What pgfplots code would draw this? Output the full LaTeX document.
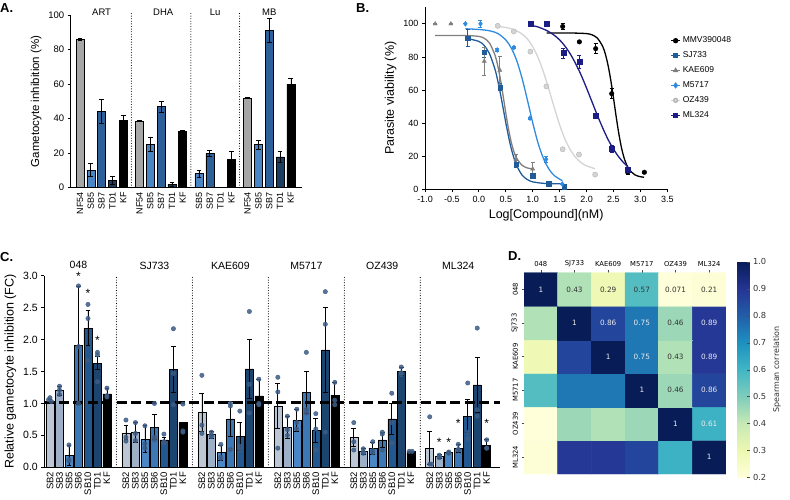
\documentclass[border=0pt]{standalone}
\usepackage{fontspec}
\setmainfont{Liberation Sans}
\newfontfamily\dejavu{DejaVu Sans}
\usepackage{pgfplots}
\pgfplotsset{compat=1.18}

% panel A colours
\definecolor{cNF}{HTML}{A6A6A6}
\definecolor{cSBfive}{HTML}{4A86C5}
\definecolor{cSBseven}{HTML}{2D5F99}
\definecolor{cTD}{HTML}{1C3D62}
% panel C colours
\definecolor{cSBtwo}{HTML}{BCC6D4}
\definecolor{cSBthree}{HTML}{9DB0C8}
\definecolor{cSBfiveC}{HTML}{4A86C5}
\definecolor{cSBsix}{HTML}{3C77B6}
\definecolor{cSBten}{HTML}{235790}
\definecolor{cTDc}{HTML}{1B446F}
\definecolor{cDot}{HTML}{3D5C85}
% panel B colours
\definecolor{cSJ}{HTML}{1F5C99}
\definecolor{cKAE}{HTML}{7F7F7F}
\definecolor{cMF}{HTML}{2E8BE0}
\definecolor{cOZ}{HTML}{D4D4D4}
\definecolor{cML}{HTML}{1C1C85}

\newcommand{\fsz}[1]{\fontsize{#1}{#1}\selectfont}

\pgfplotsset{
  /pgf/number format/assume math mode=true,
  panel/.style={scale only axis, anchor=south west, clip=false,
    axis lines=left, axis line style={-, line width=0.8pt},
    tick align=outside, major tick length=3pt,
    tick style={black, line width=0.8pt}},
  barA/.style={ybar, bar shift=0pt, bar width=8pt, draw=black, line width=0.5pt},
  ebk/.style={error bars/.cd, y dir=both, y explicit,
    error bar style={line width=0.7pt, black},
    error mark options={rotate=90, mark size=2.4pt, line width=0.7pt, black}},
  ebc/.style={error bars/.cd, y dir=both, y explicit,
    error bar style={line width=0.7pt},
    error mark options={rotate=90, mark size=2pt, line width=0.7pt}},
}

\begin{document}
\begin{tikzpicture}[x=1pt, y=1pt]
\path[use as bounding box] (0pt,0pt) rectangle (790pt,499pt);

\node[font=\bfseries\fsz{13}, anchor=north west, inner sep=0pt] at (0pt,496pt) {A.};
\node[font=\bfseries\fsz{13}, anchor=north west, inner sep=0pt] at (356pt,496pt) {B.};
\node[font=\bfseries\fsz{13}, anchor=north west, inner sep=0pt] at (0pt,247pt) {C.};
\node[font=\bfseries\fsz{13}, anchor=north west, inner sep=0pt] at (508pt,248pt) {D.};

% ---------------- A ----------------
\begin{axis}[panel, at={(70.7pt,311.3pt)}, width=231pt, height=172.7pt,
  xmin=-0.86, xmax=20.5, ymin=0, ymax=100,
  ytick={0,20,40,60,80,100},
  xtick={0,1,2,3,4,5.5,6.5,7.5,8.5,9.5,11,12,13,14,15.5,16.5,17.5,18.5,19.5},
  xticklabels={NF54,SB5,SB7,TD1,KF,NF54,SB5,SB7,TD1,KF,SB5,SB7,TD1,KF,NF54,SB5,SB7,TD1,KF},
  xtick style={draw=none},
  xticklabel style={rotate=90, anchor=east, font=\fsz{9}, inner sep=1.5pt},
  yticklabel style={font=\fsz{9.5}},
  ylabel={Gametocyte inhibition (\%)},
  ylabel style={font=\fsz{11.5}},
]
\addplot[barA, fill=cNF, ebk] coordinates {(0,86) +- (0,0.4) (5.5,38.6) +- (0,0.4) (15.5,51.9) +- (0,0.4)};
\addplot[barA, fill=cSBfive, ebk] coordinates {(1,10.2) +- (0,3.8) (6.5,25.1) +- (0,4) (11,8.1) +- (0,2) (16.5,24.9) +- (0,2.7)};
\addplot[barA, fill=cSBseven, ebk] coordinates {(2,44) +- (0,7) (7.5,46.9) +- (0,3) (12,19.9) +- (0,2) (17.5,91.3) +- (0,7)};
\addplot[barA, fill=cTD, ebk] coordinates {(3,4.3) +- (0,2.3) (8.5,2) +- (0,1.2) (18.5,17.8) +- (0,3)};
\addplot[barA, fill=black, ebk] coordinates {(4,39) +- (0,2.7) (9.5,32.7) +- (0,0.4) (14,16.4) +- (0,4.4) (19.5,60) +- (0,3.3)};
\foreach \xd in {4.75,10.25,14.75}{
  \edef\tmp{\noexpand\draw[black, line width=1.1pt, dash pattern=on 0pt off 2.6pt, line cap=round] (axis cs:\xd,0) -- (axis cs:\xd,102);}\tmp
}
\node[font=\fsz{9.5}] at (axis cs:2,101.5) {ART};
\node[font=\fsz{9.5}] at (axis cs:7.7,101.5) {DHA};
\node[font=\fsz{9.5}] at (axis cs:12.5,101.5) {Lu};
\node[font=\fsz{9.5}] at (axis cs:17.5,101.5) {MB};
\end{axis}

% ---------------- B ----------------
\begin{axis}[panel, at={(425pt,309.7pt)}, width=242.3pt, height=182pt,
  xmin=-1, xmax=3.5, ymin=0, ymax=110,
  xtick={-1,-0.5,0,0.5,1,1.5,2,2.5,3,3.5}, ytick={0,20,40,60,80,100},
  xticklabel style={font=\fsz{9}, /pgf/number format/.cd, fixed, fixed zerofill, precision=1},
  yticklabel style={font=\fsz{9}},
  xlabel={Log[Compound](nM)}, ylabel={Parasite viability (\%)},
  label style={font=\fsz{12.5}},
  legend style={at={(1.0,0.86)}, anchor=north west, draw=none, fill=none,
    font=\fsz{8.5}, row sep=3.5pt},
  legend cell align=left,
  legend image code/.code={\draw[#1] (0pt,0pt) -- (9pt,0pt); \draw[#1] plot coordinates {(4.5pt,0pt)};},
]
% fitted curves
\addplot[black, line width=1.3pt, smooth, forget plot] coordinates {
 (1.26,94.5) (1.5,94.5) (1.8,94.4) (2.0,94.1) (2.1,93.4) (2.2,91.4) (2.3,86.4) (2.35,81.7)
 (2.4,74.9) (2.45,66.0) (2.5,55.3) (2.55,44.0) (2.6,33.6) (2.65,25.0) (2.7,18.7) (2.75,14.4)
 (2.8,11.6) (2.9,8.7) (3.0,7.6) (3.07,7.3)};
\addplot[cSJ, line width=1.3pt, smooth, forget plot] coordinates {
 (-0.21,91.1) (0,89.4) (0.1,86.9) (0.2,81.8) (0.3,72.5) (0.35,65.8) (0.4,57.9) (0.45,49.2)
 (0.5,40.4) (0.55,32.1) (0.6,24.9) (0.65,19.1) (0.7,14.5) (0.8,8.7) (0.9,5.9) (1.0,4.5)
 (1.2,3.6) (1.4,3.4) (1.58,3.4)};
\addplot[cKAE, line width=1.3pt, smooth, forget plot] coordinates {
 (-0.81,93) (-0.5,93) (-0.2,92.9) (0,92.4) (0.1,91.3) (0.2,88.3) (0.3,81.1) (0.35,74.9)
 (0.4,66.6) (0.45,56.7) (0.5,46.2) (0.55,36.6) (0.6,28.7) (0.65,22.9) (0.7,18.9) (0.8,14.6)
 (0.9,12.9) (1.0,12.3)};
\addplot[cMF, line width=1.3pt, smooth, forget plot] coordinates {
 (-0.25,97) (0,96.6) (0.2,95.8) (0.35,94.2) (0.5,90.3) (0.6,85.5) (0.7,78.1) (0.8,67.4)
 (0.9,54.2) (1.0,40.3) (1.1,27.9) (1.2,18.6) (1.3,12.3) (1.4,8.3) (1.55,5.2)};
\addplot[cOZ, line width=1.3pt, smooth, forget plot] coordinates {
 (0.35,98.4) (0.5,97.8) (0.65,96.5) (0.8,93.9) (0.9,90.9) (1.0,86.2) (1.1,79.6) (1.2,70.9)
 (1.3,60.5) (1.4,49.5) (1.5,39.0) (1.6,30.3) (1.7,23.8) (1.8,19.2) (1.9,16.1) (2.0,14.2) (2.16,12.4)};
\addplot[cML, line width=1.3pt, smooth, forget plot] coordinates {
 (0.97,99.1) (1.1,98.1) (1.27,95.8) (1.4,93.1) (1.5,90.3) (1.6,86.5) (1.7,81.7) (1.8,75.8)
 (1.9,69.0) (2.0,61.2) (2.1,53.0) (2.2,44.8) (2.3,37.1) (2.4,30.1) (2.5,24.3) (2.6,19.5)
 (2.7,15.7) (2.77,13.65)};
% measured points
\addplot[only marks, mark=*, mark size=2.3pt, black, forget plot, ebc] coordinates {
 (1.557,98.4) +- (0,2) (1.867,89.1) +- (0,0.5) (2.17,85) +- (0,3) (2.467,57.8) +- (0,3)
 (2.765,10.3) +- (0,1) (3.074,10.3) +- (0,0.5)};
\addplot[only marks, mark=square*, mark size=2.2pt, cSJ, forget plot, ebc] coordinates {
 (-0.21,91.5) +- (0,5) (0.10,83) +- (0,3) (0.393,61.8) +- (0,2) (0.69,15.2) +- (0,2)
 (1.0,8.3) +- (0,1) (1.30,3.4) +- (0,0.5) (1.58,1.6) +- (0,0.5)};
\addplot[only marks, mark=triangle*, mark size=2.4pt, cKAE, forget plot, ebc] coordinates {
 (-0.81,100) +- (0,0) (-0.52,100) +- (0,0) (0.10,77.4) +- (0,8.5) (0.39,72) +- (0,8.5)
 (0.69,18) +- (0,3) (1.0,12.3) +- (0,4)};
\addplot[only marks, mark=diamond*, mark size=2.5pt, cMF, forget plot, ebc] coordinates {
 (-0.25,100) +- (0,0) (0.03,100) +- (0,2) (0.34,84.2) +- (0,1) (0.65,85.7) +- (0,0.5)
 (0.95,43) +- (0,0.5) (1.25,18.2) +- (0,2) (1.55,3.2) +- (0,0.5)};
\addplot[only marks, mark=*, mark size=2.6pt, cOZ, mark options={fill=cOZ, draw=cOZ!85!black}, forget plot] coordinates {
 (0.35,98.8) (0.65,95.4) (0.957,83.2) (1.254,62.2) (1.557,24.2) (1.86,21) (2.16,8.9)};
\addplot[only marks, mark=square*, mark size=2.4pt, cML, forget plot, ebc] coordinates {
 (0.97,100) +- (0,0.5) (1.266,100) +- (0,1.5) (1.57,82.4) +- (0,3) (1.867,77.2) +- (0,4)
 (2.17,44.6) +- (0,1) (2.467,24.4) +- (0,2) (2.765,11.7) +- (0,1)};
\addlegendimage{black, line width=1.3pt, mark=*, mark size=2pt}
\addlegendentry{MMV390048}
\addlegendimage{cSJ, line width=1.3pt, mark=square*, mark size=2pt}
\addlegendentry{SJ733}
\addlegendimage{cKAE, line width=1.3pt, mark=triangle*, mark size=2pt}
\addlegendentry{KAE609}
\addlegendimage{cMF, line width=1.3pt, mark=diamond*, mark size=2.2pt}
\addlegendentry{M5717}
\addlegendimage{cOZ, line width=1.3pt, mark=*, mark size=2pt, mark options={draw=cOZ!85!black}}
\addlegendentry{OZ439}
\addlegendimage{cML, line width=1.3pt, mark=square*, mark size=2pt}
\addlegendentry{ML324}
\end{axis}

% ---------------- C ----------------
\begin{axis}[panel, at={(44.3pt,31.7pt)}, width=455.7pt, height=191.6pt,
  xmin=-0.6, xmax=47.4, ymin=0, ymax=3,
  ytick={0,0.5,1,1.5,2,2.5,3},
  yticklabel style={font=\fsz{10.5}, /pgf/number format/.cd, fixed, fixed zerofill, precision=1},
  xtick={0,1,2,3,4,5,6,8,9,10,11,12,13,14,16,17,18,19,20,21,22,24,25,26,27,28,29,30,32,33,34,35,36,37,38,40,41,42,43,44,45,46},
  xticklabels={SB2,SB3,SB5,SB6,SB10,TD1,KF,SB2,SB3,SB5,SB6,SB10,TD1,KF,SB2,SB3,SB5,SB6,SB10,TD1,KF,
    SB2,SB3,SB5,SB6,SB10,TD1,KF,SB2,SB3,SB5,SB6,SB10,TD1,KF,SB2,SB3,SB5,SB6,SB10,TD1,KF},
  xtick style={draw=none},
  xticklabel style={rotate=90, anchor=east, font=\fsz{9.5}, inner sep=1.5pt},
  ylabel={Relative gametocyte inhibition (FC)}, ylabel style={font=\fsz{12.5}},
]
\addplot[barA, fill=cSBtwo, ebk] coordinates {(0,1.04) +- (0,0.02) (8,0.54) +- (0,0.11) (16,0.86) +- (0,0.30) (24,0.96) +- (0,0.35) (32,0.47) +- (0,0.14) (40,0.30) +- (0,0.26)};
\addplot[barA, fill=cSBthree, ebk] coordinates {(1,1.20) +- (0,0.07) (9,0.55) +- (0,0.16) (17,0.51) +- (0,0.05) (25,0.63) +- (0,0.17) (33,0.25) +- (0,0.04) (41,0.17) +- (0,0.03)};
\addplot[barA, fill=cSBfiveC, ebk] coordinates {(2,0.19) +- (0,0.16) (10,0.44) +- (0,0.21) (18,0.23) +- (0,0.12) (26,0.74) +- (0,0.17) (34,0.30) +- (0,0.09) (42,0.23) +- (0,0.01)};
\addplot[barA, fill=cSBsix, ebk] coordinates {(3,1.91) +- (0,0.93) (11,0.63) +- (0,0.20) (19,0.76) +- (0,0.27) (27,1.17) +- (0,0.33) (35,0.43) +- (0,0.12) (43,0.30) +- (0,0.06)};
\addplot[barA, fill=cSBten, ebk] coordinates {(4,2.18) +- (0,0.27) (12,0.43) +- (0,0.04) (20,0.49) +- (0,0.22) (28,0.58) +- (0,0.19) (36,0.76) +- (0,0.24) (44,0.80) +- (0,0.26)};
\addplot[barA, fill=cTDc, ebk] coordinates {(5,1.63) +- (0,0.10) (13,1.53) +- (0,0.36) (21,1.54) +- (0,0.46) (29,1.84) +- (0,0.67) (37,1.50) +- (0,0.06) (45,1.29) +- (0,0.43)};
\addplot[barA, fill=black, ebk] coordinates {(6,1.15) +- (0,0.09) (14,0.70) +- (0,0) (22,1.12) +- (0,0.26) (30,1.13) +- (0,0.20) (38,0.25) +- (0,0) (46,0.34) +- (0,0.09)};
% replicate points
\addplot[only marks, mark=*, mark size=2.2pt, mark options={fill=cDot, draw=cDot, fill opacity=0.85}] coordinates {
 (-0.15,1.06) (0,1.09) (0.15,1.03) (1,1.27) (1,1.21) (1,1.14) (2,0.35) (2,0.12) (2,0.10)
 (3,2.84) (3,1.0) (3,1.89) (4,2.55) (4,2.33) (4,1.67) (5,1.80) (5,1.76) (5,1.34) (6,1.24) (6,1.10) (6,1.12)
 (8,0.74) (8,0.41) (8,0.47) (9,0.70) (9,0.53) (9,0.42) (10,0.65) (10,0.30) (10,0.37)
 (11,1.0) (11,0.43) (11,0.47) (12,0.52) (12,0.40) (12,0.38) (13,2.17) (13,1.47) (13,0.98) (14,0.99) (14,0.57) (14,0.55)
 (16,1.44) (16,0.66) (16,0.53) (17,0.55) (17,0.48) (17,0.50) (18,0.36) (18,0.16) (18,0.14)
 (19,1.0) (19,0.96) (19,0.28) (20,0.88) (20,0.33) (20,0.27) (21,2.44) (21,1.30) (21,0.85) (22,1.38) (22,1.0) (22,0.98)
 (24,1.41) (24,1.18) (24,0.30) (25,0.80) (25,0.50) (25,0.59) (26,0.91) (26,0.60) (26,0.70)
 (27,1.80) (27,0.85) (27,0.90) (28,0.84) (28,0.60) (28,0.27) (29,2.75) (29,2.24) (29,0.55) (30,1.33) (30,0.98) (30,1.05)
 (32,0.70) (32,0.27) (32,0.40) (33,0.29) (33,0.24) (33,0.22) (34,0.40) (34,0.23) (34,0.26)
 (35,0.55) (35,0.52) (35,0.27) (36,1.16) (36,0.70) (36,0.38) (37,1.48) (37,1.57) (37,1.45) (37.85,0.25) (38.15,0.25)
 (40,0.79) (40,0.05) (40.2,0.05) (41,0.19) (41,0.17) (41,0.15) (42,0.23) (42,0.22) (42,0.24)
 (43,0.36) (43,0.28) (43,0.27) (44,1.32) (44,0.55) (44,0.45) (45,2.18) (45,0.80) (45,0.90) (46,0.43) (46,0.30) (46,0.30)};
% significance stars
\addplot[only marks, mark=none, nodes near coords={*}, nodes near coords style={anchor=center, font=\fsz{12}}] coordinates {
 (3,2.99) (4,2.72) (5,1.99) (41,0.39) (42,0.39) (43,0.69) (46,0.69)};
\draw[black, line width=3pt, dash pattern=on 10pt off 4.5pt] (axis cs:-0.6,1.01) -- (axis cs:47.4,1.01);
\foreach \xd in {7,15,23,31,39}{
  \edef\tmp{\noexpand\draw[black, line width=1.1pt, dash pattern=on 0pt off 2.6pt, line cap=round] (axis cs:\xd,0) -- (axis cs:\xd,3);}\tmp
}
\node[font=\fsz{10.5}] at (axis cs:3,3.17) {048};
\node[font=\fsz{10.5}] at (axis cs:11,3.15) {SJ733};
\node[font=\fsz{10.5}] at (axis cs:19,3.15) {KAE609};
\node[font=\fsz{10.5}] at (axis cs:27,3.15) {M5717};
\node[font=\fsz{10.5}] at (axis cs:35,3.15) {OZ439};
\node[font=\fsz{10.5}] at (axis cs:43,3.15) {ML324};
\end{axis}

% ---------------- D ----------------
\begin{axis}[at={(524pt,25pt)}, anchor=south west, scale only axis, width=202pt, height=201.3pt,
  xmin=-0.5, xmax=5.5, ymin=-0.5, ymax=5.5,
  axis x line*=top, axis y line*=left, axis line style={draw=none},
  xtick={0,1,2,3,4,5}, xticklabels={048,SJ733,KAE609,M5717,OZ439,ML324},
  ytick={0,1,2,3,4,5}, yticklabels={ML324,OZ439,M5717,KAE609,SJ733,048},
  tick align=outside, major tick length=2.5pt, tick style={black!70, line width=0.4pt},
  xticklabel style={font=\dejavu\fsz{6.8}},
  yticklabel style={font=\dejavu\fsz{6.8}, rotate=90, anchor=south},
  colormap={ylgnbu}{rgb255=(255,255,217) rgb255=(237,248,177) rgb255=(199,233,180) rgb255=(127,205,187)
    rgb255=(65,182,196) rgb255=(29,145,192) rgb255=(34,94,168) rgb255=(37,52,148) rgb255=(8,29,88)},
  point meta min=0.2, point meta max=1,
  colorbar,
  colorbar style={at={(parent axis.north east)}, anchor=north west, xshift=2.7pt, yshift=11pt,
    scale only axis, width=12.3pt, height=216pt,
    ytick={0.2,0.3,0.4,0.5,0.6,0.7,0.8,0.9,1.0}, ytick pos=right,
    yticklabel style={font=\dejavu\fsz{8.3}, text=black!80, /pgf/number format/.cd, fixed, fixed zerofill, precision=1},
    ylabel={Spearman correlation}, ylabel style={font=\dejavu\fsz{8}, text=black!80},
    axis line style={draw=none}, tick style={black!70, line width=0.4pt}, major tick length=3pt},
]
\addplot[matrix plot*, mesh/cols=6, mesh/rows=6, point meta=explicit] table[meta=c] {
x y c
0 0 0.21
1 0 0.89
2 0 0.89
3 0 0.86
4 0 0.61
5 0 1
0 1 0.071
1 1 0.46
2 1 0.43
3 1 0.46
4 1 1
5 1 0.61
0 2 0.57
1 2 0.75
2 2 0.75
3 2 1
4 2 0.46
5 2 0.86
0 3 0.29
1 3 0.86
2 3 1
3 3 0.75
4 3 0.43
5 3 0.89
0 4 0.43
1 4 1
2 4 0.86
3 4 0.75
4 4 0.46
5 4 0.89
0 5 1
1 5 0.43
2 5 0.29
3 5 0.57
4 5 0.071
5 5 0.21
};
\addplot[only marks, mark=none, point meta=explicit symbolic, nodes near coords,
  nodes near coords style={anchor=center, font=\dejavu\fsz{7.3}, text=black!80}] table[meta=t] {
x y t
1 5 0.43
2 5 0.29
3 5 0.57
4 5 0.071
5 5 0.21
4 4 0.46
4 3 0.43
4 2 0.46
};
\addplot[only marks, mark=none, point meta=explicit symbolic, nodes near coords,
  nodes near coords style={anchor=center, font=\dejavu\fsz{7.3}, text=white!92!black}] table[meta=t] {
x y t
0 5 1
1 4 1
2 4 0.86
3 4 0.75
5 4 0.89
2 3 1
3 3 0.75
5 3 0.89
3 2 1
5 2 0.86
4 1 1
5 1 0.61
5 0 1
};
\end{axis}
\end{tikzpicture}
\end{document}
